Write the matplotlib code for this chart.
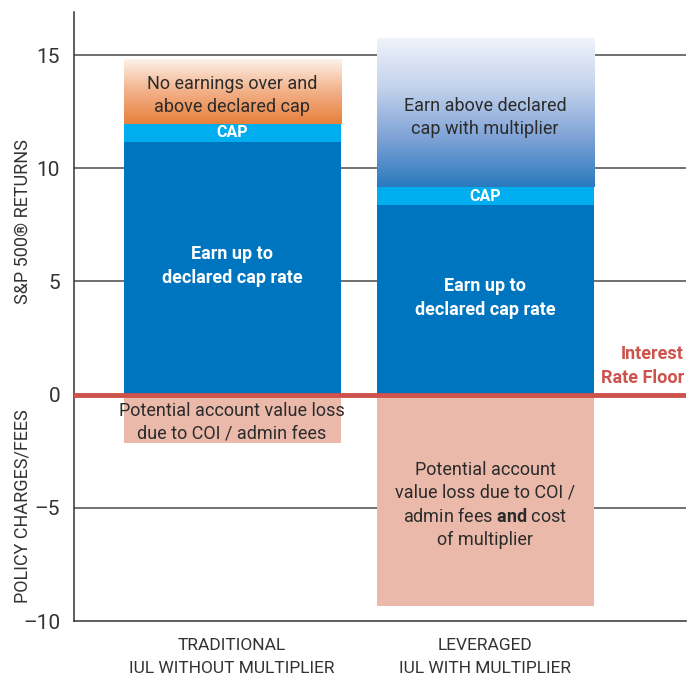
import matplotlib.pyplot as plt
import numpy as np
from matplotlib.colors import LinearSegmentedColormap

# chart values (S&P 500 returns / policy charges, in %)
categories = ["TRADITIONAL\nIUL WITHOUT MULTIPLIER", "LEVERAGED\nIUL WITH MULTIPLIER"]
earn_to_cap = [11.17, 8.36]
cap_band = [0.80, 0.80]
above_cap = [2.87, 6.56]
fees = [-2.12, -9.32]

above_labels = ["No earnings over and\nabove declared cap", "Earn above declared\ncap with multiplier"]
earn_labels = ["Earn up to\ndeclared cap rate", "Earn up to\ndeclared cap rate"]
fee_labels = ["Potential account value loss\ndue to COI / admin fees",
              "Potential account\nvalue loss due to COI /\nadmin fees $\\bf{and}$ cost\nof multiplier"]
yticks = [-10, -5, 0, 5, 10, 15]

plt.rcParams['font.family'] = ['Roboto', 'DejaVu Sans']
plt.rcParams['mathtext.fontset'] = 'custom'
plt.rcParams['mathtext.bf'] = 'Roboto:bold'

BLUE = "#0075bf"
CAP = "#00aeef"
FEE = "#eab9aa"
RED = "#cd534c"
DARK = "#2b2b2b"

orange_cmap = LinearSegmentedColormap.from_list("o", ["#e8803c", "#f2b088", "#fdf2e9"])
blue_cmap = LinearSegmentedColormap.from_list("b", ["#2a79be", "#7fa3d6", "#c3d2ec", "#f0f3fa"])
cmaps = [orange_cmap, blue_cmap]

fig = plt.figure(figsize=(6.96, 6.81), dpi=100)
ax = fig.add_axes([0.1063, 0.0881, 0.8793, 0.8943])

x = np.arange(len(categories))
w = 0.858

ax.bar(x, earn_to_cap, w, color=BLUE, zorder=2)
ax.bar(x, cap_band, w, bottom=earn_to_cap, color=CAP, zorder=2)
ax.bar(x, fees, w, color=FEE, zorder=2)

grad = np.linspace(0, 1, 256).reshape(-1, 1)
for i in range(len(x)):
    b = earn_to_cap[i] + cap_band[i]
    t = b + above_cap[i]
    ax.imshow(grad, cmap=cmaps[i], origin="lower", aspect="auto",
              extent=[x[i] - w / 2, x[i] + w / 2, b, t], zorder=2)

    ax.text(x[i], (b + t) / 2 - 0.2, above_labels[i], ha="center", va="center",
            fontsize=13, color=DARK, linespacing=1.4, zorder=4)
    ax.text(x[i], earn_to_cap[i] + cap_band[i] / 2, "CAP", ha="center", va="center",
            fontsize=11.5, color="white", fontweight="bold", zorder=4)
    ax.text(x[i], earn_to_cap[i] / 2 + 0.1, earn_labels[i], ha="center", va="center",
            fontsize=13, color="white", fontweight="bold", linespacing=1.4, zorder=4)
    ax.text(x[i], fees[i] / 2 - 0.15 - 0.05 * i, fee_labels[i], ha="center", va="center",
            fontsize=13, color=DARK, linespacing=1.35, zorder=4)

# interest rate floor
ax.axhline(0, color=RED, lw=3.5, zorder=3)
ax.text(1.786, 0.35, "Interest\nRate Floor", ha="right", va="bottom", fontsize=13,
        color=RED, fontweight="bold", linespacing=1.4, zorder=4)

for v in yticks:
    if v not in (0, -10):
        ax.axhline(v, color="#4a4a4a", lw=1.1, zorder=1)

ax.set_xlim(-0.625, 1.794)
ax.set_ylim(-10, 16.9)
ax.set_yticks(yticks)
ax.set_yticklabels([str(v).replace("-", "\u2013") for v in yticks], fontsize=15, color="#333333")
ax.tick_params(axis="y", length=0, pad=10)
ax.set_xticks(x)
ax.set_xticklabels(categories, fontsize=12.5, color="#333333", linespacing=1.7)
ax.tick_params(axis="x", length=0, pad=12)

for s in ["top", "right"]:
    ax.spines[s].set_visible(False)
for s in ["left", "bottom"]:
    ax.spines[s].set_color("#333333")
    ax.spines[s].set_linewidth(1.1)

fig.text(0.032, 1 - 222 / 681, "S&P 500\u00ae RETURNS", rotation=90, ha="center", va="center",
         fontsize=13, color="#333333")
fig.text(0.032, 1 - 506 / 681, "POLICY CHARGES/FEES", rotation=90, ha="center", va="center",
         fontsize=13, color="#333333")

fig.savefig("out.png", dpi=100)
